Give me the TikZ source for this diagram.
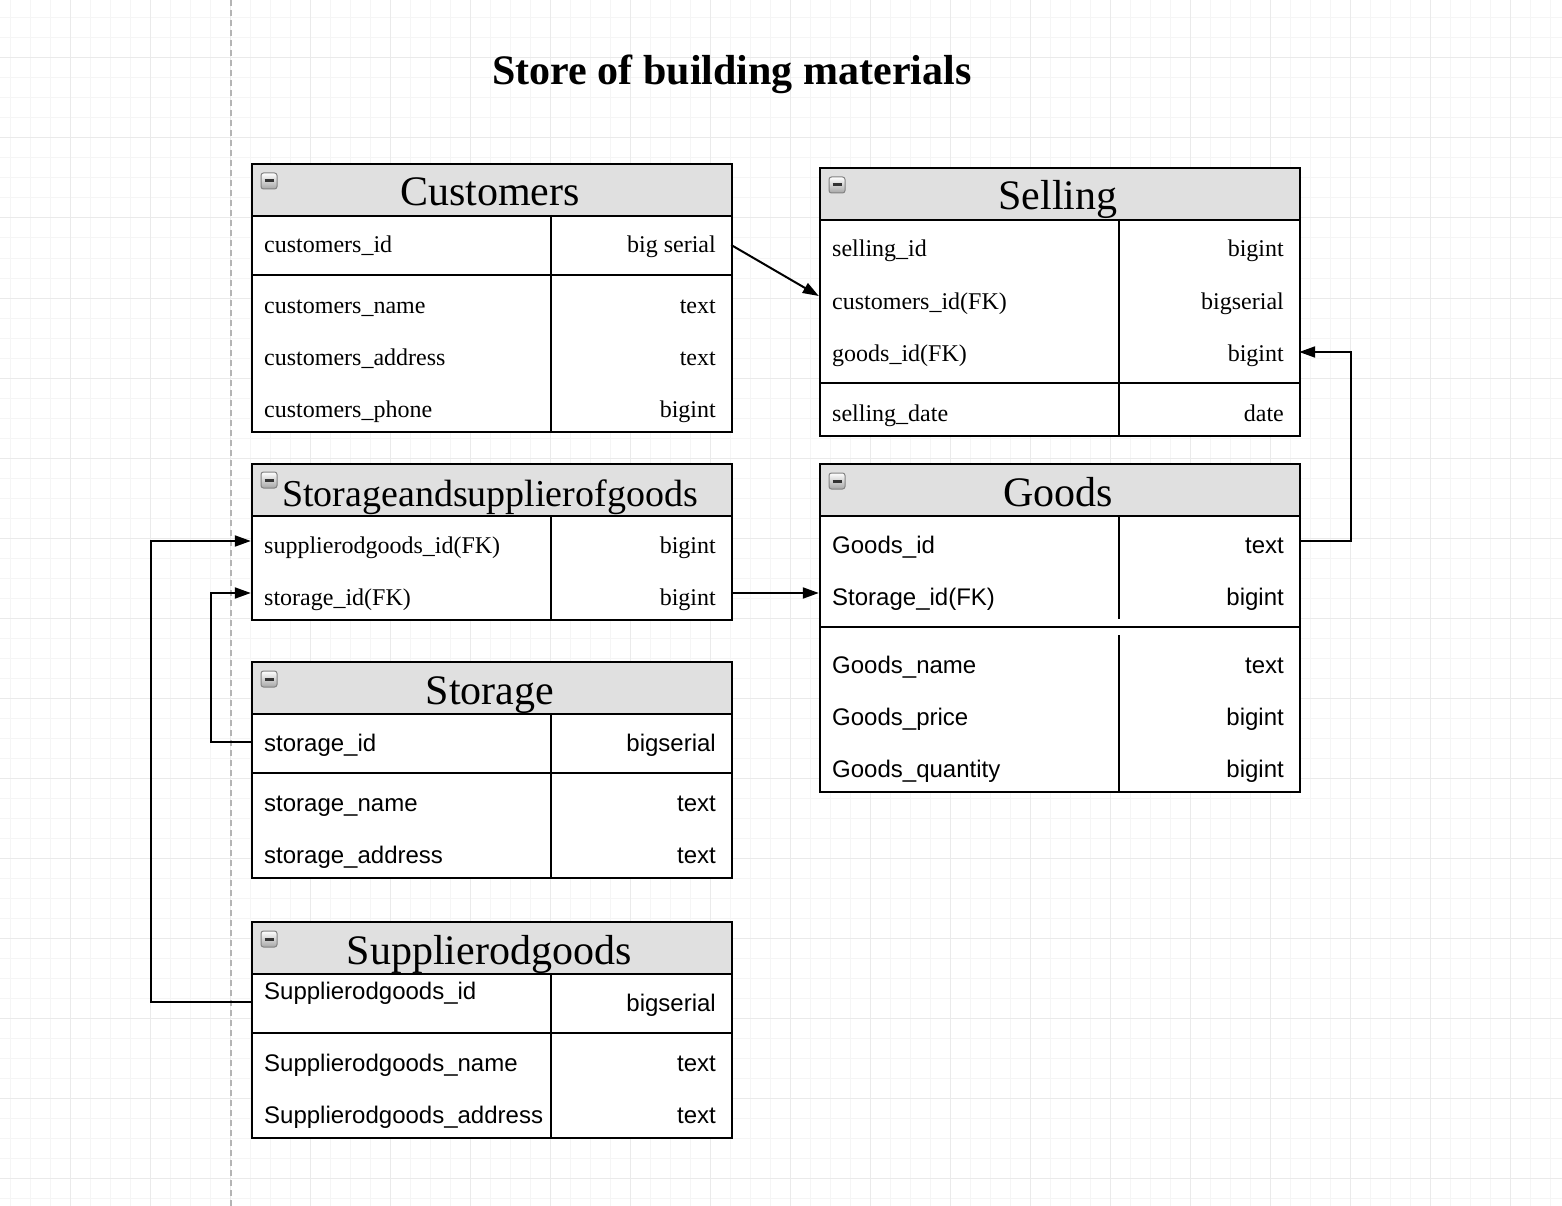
\documentclass[tikz,border=0pt]{standalone}
\usepackage{fontspec}
\setmainfont{Liberation Serif}
\newfontfamily\sansf{Liberation Sans}
\usetikzlibrary{arrows.meta}
\definecolor{hdrgray}{RGB}{224,224,224}
\definecolor{gridminor}{RGB}{245,245,245}
\definecolor{gridmajor}{RGB}{234,234,234}
\definecolor{dashgray}{RGB}{180,180,180}
\definecolor{icongray}{RGB}{130,130,130}
\newcommand{\icondash}{{\color{black!80}\rule{9pt}{3pt}}}
\begin{document}
\begin{tikzpicture}[x=1pt,y=-1pt,
  frame/.style={draw, line width=2pt, fill=white, anchor=north west, inner sep=0pt, minimum width=480pt},
  hdr/.style={draw, line width=2pt, fill=hdrgray, anchor=north west, inner sep=0pt, minimum width=480pt, minimum height=52pt},
  htitle/.style={anchor=base, inner sep=0pt, font=\fontsize{42}{50}\selectfont},
  fld/.style={anchor=base west, inner sep=0pt, font=\fontsize{24}{28}\selectfont},
  typ/.style={anchor=base east, inner sep=0pt, font=\fontsize{24}{28}\selectfont},
  sfld/.style={anchor=base west, inner sep=0pt, font=\sansf\fontsize{24}{28}\selectfont},
  styp/.style={anchor=base east, inner sep=0pt, font=\sansf\fontsize{24}{28}\selectfont},
  rowbox/.style={inner sep=0pt, minimum width=480pt, minimum height=26pt},
  sepline/.style={line width=2pt},
  conn/.style={line width=2pt, -{Triangle[length=16pt,width=11pt]}},
  icon/.style={rectangle, rounded corners=2.5pt, draw=icongray, line width=1pt, top color=white, bottom color=black!35, minimum size=16pt, inner sep=0pt},
  gminor/.style={gridminor, line width=1pt},
  gmajor/.style={gridmajor, line width=1pt}
]
\useasboundingbox (0,0) rectangle (1562,1206);
\fill[white] (0,0) rectangle (1562,1206);
% grid
\foreach \x in {10,30,...,1550} \draw[gminor] (\x,0) -- (\x,1206);
\foreach \y in {18,38,...,1198} \draw[gminor] (0,\y) -- (1562,\y);
\foreach \x in {70,150,...,1550} \draw[gmajor] (\x,0) -- (\x,1206);
\foreach \y in {58,138,...,1178} \draw[gmajor] (0,\y) -- (1562,\y);
\draw[dashgray, line width=1.6pt, dash pattern=on 6pt off 4pt] (231,0) -- (231,1206);

% title
\node[anchor=base, inner sep=0pt, font=\bfseries\fontsize{42}{50}\selectfont] (title) at (732,85) {Store of building materials};

% Customers
\node[frame, minimum height=268pt] (custF) at (251,163) {};
\node[hdr] (custH) at (251,163) {};
\node[htitle] (custT) at (490,206) {Customers};
\node[icon] (custI) at (269,181) {\icondash};
\draw[sepline] (251,275) -- (731,275);
\draw[sepline] (551,215) -- (551,431);
\node[fld] (c1f) at (264,253) {customers\_id};      \node[typ] (c1t) at (716,253) {big serial};
\node[fld] (c2f) at (264,313) {customers\_name};    \node[typ] (c2t) at (716,313) {text};
\node[fld] (c3f) at (264,365) {customers\_address}; \node[typ] (c3t) at (716,365) {text};
\node[fld] (c4f) at (264,417) {customers\_phone};   \node[typ] (c4t) at (716,417) {bigint};
\node[rowbox] (custid) at (491,245) {};

% Selling
\node[frame, minimum height=268pt] (sellF) at (819,167) {};
\node[hdr] (sellH) at (819,167) {};
\node[htitle] (sellT) at (1058,210) {Selling};
\node[icon] (sellI) at (837,185) {\icondash};
\draw[sepline] (819,383) -- (1299,383);
\draw[sepline] (1119,219) -- (1119,435);
\node[fld] (s1f) at (832,257) {selling\_id};        \node[typ] (s1t) at (1284,257) {bigint};
\node[fld] (s2f) at (832,309) {customers\_id(FK)};  \node[typ] (s2t) at (1284,309) {bigserial};
\node[fld] (s3f) at (832,361) {goods\_id(FK)};      \node[typ] (s3t) at (1284,361) {bigint};
\node[fld] (s4f) at (832,421) {selling\_date};      \node[typ] (s4t) at (1284,421) {date};
\node[rowbox] (sellcust) at (1059,296) {};
\node[rowbox] (sellgoods) at (1059,352) {};

% Storageandsupplierofgoods
\node[frame, minimum height=156pt] (sasF) at (251,463) {};
\node[hdr] (sasH) at (251,463) {};
\node[htitle, font=\fontsize{38}{46}\selectfont] (sasT) at (490,506) {Storageandsupplierofgoods};
\node[icon] (sasI) at (269,480) {\icondash};
\draw[sepline] (551,515) -- (551,619);
\node[fld] (a1f) at (264,553) {supplierodgoods\_id(FK)}; \node[typ] (a1t) at (716,553) {bigint};
\node[fld] (a2f) at (264,605) {storage\_id(FK)};         \node[typ] (a2t) at (716,605) {bigint};
\node[rowbox] (sassupp) at (491,541) {};
\node[rowbox] (sasstor) at (491,593) {};

% Goods
\node[frame, minimum height=328pt] (goodsF) at (819,463) {};
\node[hdr] (goodsH) at (819,463) {};
\node[htitle] (goodsT) at (1058,506) {Goods};
\node[icon] (goodsI) at (837,481) {\icondash};
\draw[sepline] (1119,515) -- (1119,619);
\draw[sepline] (819,627) -- (1299,627);
\draw[sepline] (1119,635) -- (1119,791);
\node[sfld] (g1f) at (832,553) {Goods\_id};        \node[styp] (g1t) at (1284,553) {text};
\node[sfld] (g2f) at (832,605) {Storage\_id(FK)};  \node[styp] (g2t) at (1284,605) {bigint};
\node[sfld] (g3f) at (832,673) {Goods\_name};      \node[styp] (g3t) at (1284,673) {text};
\node[sfld] (g4f) at (832,725) {Goods\_price};     \node[styp] (g4t) at (1284,725) {bigint};
\node[sfld] (g5f) at (832,777) {Goods\_quantity};  \node[styp] (g5t) at (1284,777) {bigint};
\node[rowbox] (goodsid) at (1059,541) {};
\node[rowbox] (goodsstor) at (1059,593) {};

% Storage
\node[frame, minimum height=216pt] (storF) at (251,661) {};
\node[hdr] (storH) at (251,661) {};
\node[htitle] (storT) at (490,704) {Storage};
\node[icon] (storI) at (269,679) {\icondash};
\draw[sepline] (251,773) -- (731,773);
\draw[sepline] (551,713) -- (551,877);
\node[sfld] (t1f) at (264,751) {storage\_id};      \node[styp] (t1t) at (716,751) {bigserial};
\node[sfld] (t2f) at (264,811) {storage\_name};    \node[styp] (t2t) at (716,811) {text};
\node[sfld] (t3f) at (264,863) {storage\_address}; \node[styp] (t3t) at (716,863) {text};
\node[rowbox] (storid) at (491,742) {};

% Supplierodgoods
\node[frame, minimum height=216pt] (supF) at (251,921) {};
\node[hdr] (supH) at (251,921) {};
\node[htitle] (supT) at (489,964) {Supplierodgoods};
\node[icon] (supI) at (269,939) {\icondash};
\draw[sepline] (251,1033) -- (731,1033);
\draw[sepline] (551,973) -- (551,1137);
\node[sfld] (p1f) at (264,999) {Supplierodgoods\_id};       \node[styp] (p1t) at (716,1011) {bigserial};
\node[sfld] (p2f) at (264,1071) {Supplierodgoods\_name};    \node[styp] (p2t) at (716,1071) {text};
\node[sfld] (p3f) at (264,1123) {Supplierodgoods\_address}; \node[styp] (p3t) at (716,1123) {text};
\node[rowbox] (supid) at (491,1002) {};

% connectors
\draw[conn] (custid.east) -- (sellcust.west);
\draw[conn] (goodsid.east) -- ++(52,0) |- (sellgoods.east);
\draw[conn] (sasstor.east) -- (goodsstor.west);
\draw[conn] (storid.west) -- ++(-40,0) |- (sasstor.west);
\draw[conn] (supid.west) -- ++(-100,0) |- (sassupp.west);
\end{tikzpicture}
\end{document}
